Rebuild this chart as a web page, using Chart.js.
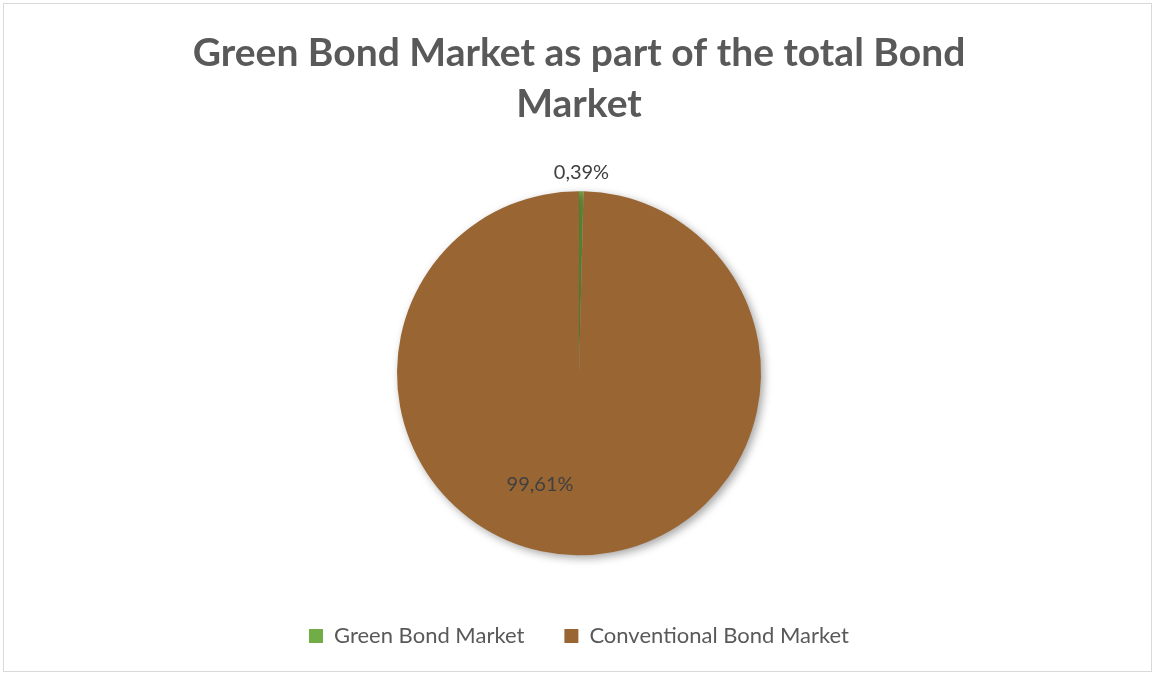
<!DOCTYPE html>
<html>
<head>
<meta charset="utf-8">
<script src="https://cdn.jsdelivr.net/npm/chart.js@4/dist/chart.umd.min.js"></script>
<style>
    html, body { margin: 0; padding: 0; background: #ffffff; }
    #wrap { width: 1155px; height: 675px; }
</style>
</head>
<body>
<div id="wrap"><canvas id="bondChart" width="1155" height="675"></canvas></div>
<script>
const categorias = ['Green Bond Market', 'Conventional Bond Market'];
const participacao = [0.39, 99.61];
const rotulos = ['0,39%', '99,61%'];
const cores = ['#70AD47', '#996633'];

// moldura cinza em volta do grafico
const moldura = {
    id: 'moldura',
    beforeDraw(chart) {
        const ctx = chart.ctx;
        ctx.save();
        ctx.fillStyle = '#ffffff';
        ctx.fillRect(0, 0, chart.width, chart.height);
        ctx.strokeStyle = '#d9d9d9';
        ctx.lineWidth = 1;
        ctx.strokeRect(3.5, 3.5, chart.width - 7, chart.height - 7);
        ctx.restore();
    }
};

// sombra suave da pizza
const sombra = {
    id: 'sombra',
    beforeDatasetsDraw(chart) {
        const ctx = chart.ctx;
        ctx.save();
        ctx.shadowColor = 'rgba(0,0,0,0.35)';
        ctx.shadowBlur = 9;
        ctx.shadowOffsetX = 3;
        ctx.shadowOffsetY = 3;
    },
    afterDatasetsDraw(chart) {
        chart.ctx.restore();
    }
};

// rotulos de dados: o pequeno fora, o grande dentro
const rotulosDados = {
    id: 'rotulosDados',
    afterDraw(chart) {
        const ctx = chart.ctx;
        const arcos = chart.getDatasetMeta(0).data;
        ctx.save();
        ctx.font = '20px Lato';
        ctx.fillStyle = '#404040';
        ctx.textAlign = 'center';
        ctx.textBaseline = 'middle';
        arcos.forEach((arco, i) => {
            const p = arco.getProps(['x', 'y', 'startAngle', 'endAngle', 'outerRadius']);
            let ang = (p.startAngle + p.endAngle) / 2;
            let r;
            if (i === 0) {
                r = p.outerRadius + 19;
            } else {
                ang += 18.5 * Math.PI / 180;
                r = p.outerRadius * 0.65;
            }
            ctx.fillText(rotulos[i], p.x + Math.cos(ang) * r, p.y + Math.sin(ang) * r);
        });
        ctx.restore();
    }
};

const grafico = document.getElementById('bondChart').getContext('2d');

new Chart(grafico, {
    type: 'pie',
    data: {
        labels: categorias,
        datasets: [
            {
                data: participacao,
                backgroundColor: cores,
                borderWidth: 0
            }
        ]
    },
    plugins: [moldura, sombra, rotulosDados],
    options: {
        responsive: false,
        animation: false,
        radius: 182,
        layout: {
            padding: { top: 28, bottom: 18, left: 3, right: 0 }
        },
        plugins: {
            title: {
                display: true,
                text: ['Green Bond Market as part of the total Bond', 'Market'],
                color: '#595959',
                font: { family: 'Lato', size: 39, weight: 'bold', lineHeight: 1.3 },
                padding: { top: 0, bottom: 32 }
            },
            legend: {
                position: 'bottom',
                labels: {
                    color: '#595959',
                    font: { family: 'Lato', size: 22 },
                    boxWidth: 14,
                    boxHeight: 14,
                    padding: 40
                }
            },
            tooltip: { enabled: false }
        }
    }
});
</script>
</body>
</html>
